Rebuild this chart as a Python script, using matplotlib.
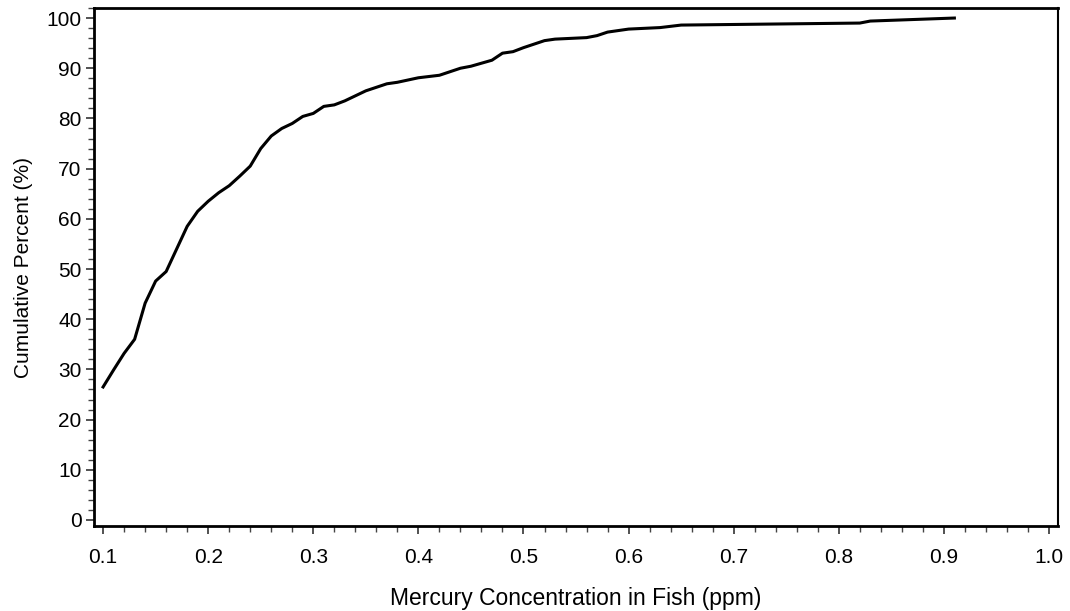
import matplotlib
matplotlib.use("Agg")
import matplotlib.pyplot as plt
from matplotlib.ticker import MultipleLocator, FormatStrFormatter

# Kadar merkuri (ppm) dan persen kumulatif
mercury_ppm = [0.10, 0.11, 0.12, 0.13, 0.14, 0.15, 0.16, 0.17, 0.18, 0.19,
               0.20, 0.21, 0.22, 0.23, 0.24, 0.25, 0.26, 0.27, 0.28, 0.29,
               0.30, 0.31, 0.32, 0.33, 0.35, 0.37, 0.38, 0.40, 0.42, 0.44,
               0.45, 0.47, 0.48, 0.49, 0.50, 0.52, 0.53, 0.56, 0.57, 0.58,
               0.60, 0.63, 0.65, 0.82, 0.83, 0.91]
cumulative_pct = [26.5, 29.9, 33.2, 36.0, 43.2, 47.6, 49.5, 54.0, 58.5, 61.5,
                  63.5, 65.2, 66.6, 68.5, 70.5, 74.0, 76.5, 78.0, 79.0, 80.4,
                  81.0, 82.4, 82.7, 83.5, 85.5, 86.9, 87.2, 88.1, 88.6, 90.0,
                  90.4, 91.6, 93.0, 93.3, 94.1, 95.5, 95.8, 96.1, 96.5, 97.2,
                  97.8, 98.1, 98.6, 99.0, 99.4, 100.0]

plt.rcParams['font.family'] = ['Liberation Sans', 'DejaVu Sans']

fig = plt.figure(figsize=(10.70, 6.11), dpi=100)
ax = fig.add_axes([0.0879, 0.1391, 0.9009, 0.8478])

ax.plot(mercury_ppm, cumulative_pct, color='black', linewidth=2.2)

ax.set_xlim(0.0914, 1.0086)
ax.set_ylim(-1.2, 102)

ax.xaxis.set_major_locator(MultipleLocator(0.1))
ax.xaxis.set_minor_locator(MultipleLocator(0.02))
ax.xaxis.set_major_formatter(FormatStrFormatter('%.1f'))
ax.yaxis.set_major_locator(MultipleLocator(10))
ax.yaxis.set_minor_locator(MultipleLocator(2))

ax.tick_params(which='major', direction='out', length=6, width=1.2, labelsize=15,
               colors='#333333', labelcolor='black')
ax.tick_params(which='minor', direction='out', length=4, width=1.0, colors='#444444')
ax.tick_params(axis='x', which='major', pad=10)
ax.tick_params(axis='y', which='major', pad=3)

for side in ['left', 'bottom', 'top']:
    ax.spines[side].set_linewidth(2.0)
ax.spines['right'].set_linewidth(1.5)

ax.set_xlabel('Mercury Concentration in Fish (ppm)', fontsize=16.5, labelpad=14)
ax.set_ylabel('Cumulative Percent (%)', fontsize=15, labelpad=10)

fig.savefig('out.png', dpi=100)
